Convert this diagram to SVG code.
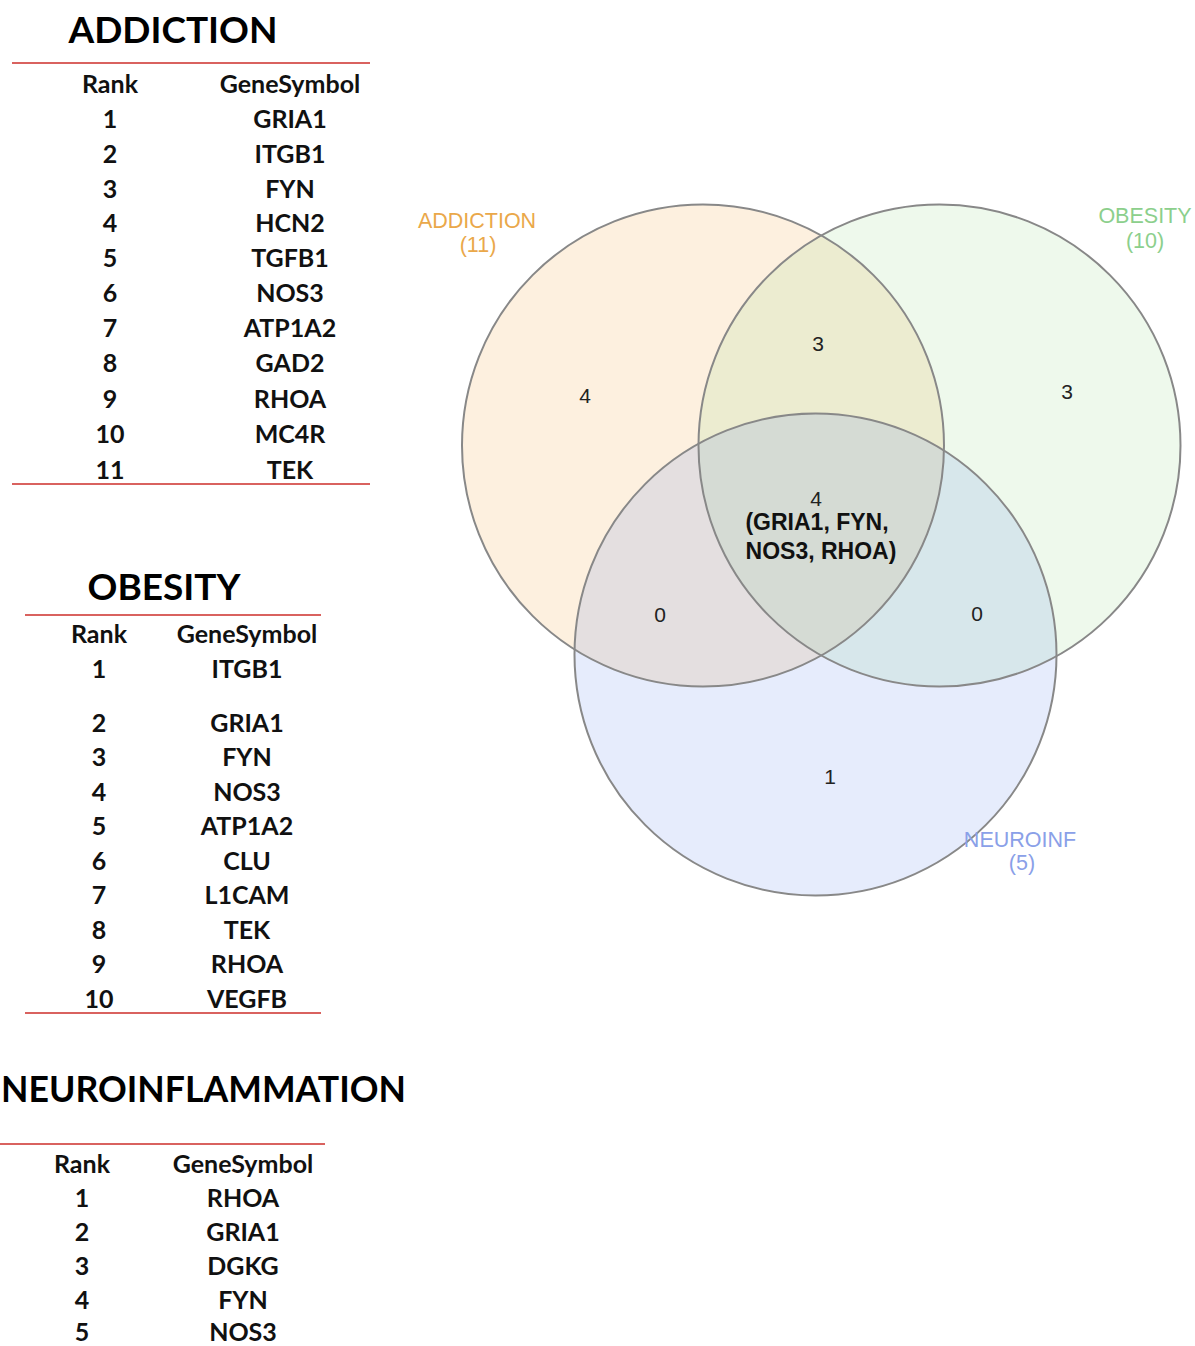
<svg xmlns="http://www.w3.org/2000/svg" width="1195" height="1346" viewBox="0 0 1195 1346">
<style>
.title{font-family:Lato,"Open Sans",sans-serif;font-weight:bold;font-size:37px;fill:#000;text-anchor:middle}
.cell{font-family:Lato,"Open Sans",sans-serif;font-weight:bold;font-size:25px;fill:#111;text-anchor:middle;dominant-baseline:central}
.rule{stroke:#d9625f;stroke-width:2}
.num{font-family:"Liberation Sans",Arial,sans-serif;font-size:21px;fill:#222;text-anchor:middle;dominant-baseline:central}
.gene{font-family:"Liberation Sans",Arial,sans-serif;font-weight:bold;font-size:23px;fill:#111;text-anchor:middle;dominant-baseline:central}
.lab{font-family:"Liberation Sans",Arial,sans-serif;font-size:21.5px;text-anchor:middle;dominant-baseline:central}
.ring{fill:none;stroke:#888;stroke-width:2}
</style>
<rect width="1195" height="1346" fill="#fff"/>

<g id="table-addiction">
<text class="title" x="173" y="43">ADDICTION</text>
<line class="rule" x1="12" y1="63" x2="370" y2="63"/>
<text class="cell" x="110" y="83">Rank</text><text class="cell" x="290" y="83">GeneSymbol</text>
<text class="cell" x="110" y="118">1</text><text class="cell" x="290" y="118">GRIA1</text>
<text class="cell" x="110" y="153">2</text><text class="cell" x="290" y="153">ITGB1</text>
<text class="cell" x="110" y="188">3</text><text class="cell" x="290" y="188">FYN</text>
<text class="cell" x="110" y="222">4</text><text class="cell" x="290" y="222">HCN2</text>
<text class="cell" x="110" y="257">5</text><text class="cell" x="290" y="257">TGFB1</text>
<text class="cell" x="110" y="292">6</text><text class="cell" x="290" y="292">NOS3</text>
<text class="cell" x="110" y="327">7</text><text class="cell" x="290" y="327">ATP1A2</text>
<text class="cell" x="110" y="362">8</text><text class="cell" x="290" y="362">GAD2</text>
<text class="cell" x="110" y="398">9</text><text class="cell" x="290" y="398">RHOA</text>
<text class="cell" x="110" y="433">10</text><text class="cell" x="290" y="433">MC4R</text>
<text class="cell" x="110" y="469">11</text><text class="cell" x="290" y="469">TEK</text>
<line class="rule" x1="12" y1="484" x2="370" y2="484"/>
</g>

<g id="table-obesity">
<text class="title" x="164" y="600">OBESITY</text>
<line class="rule" x1="25" y1="615" x2="321" y2="615"/>
<text class="cell" x="99" y="633">Rank</text><text class="cell" x="247" y="633">GeneSymbol</text>
<text class="cell" x="99" y="668">1</text><text class="cell" x="247" y="668">ITGB1</text>
<text class="cell" x="99" y="722">2</text><text class="cell" x="247" y="722">GRIA1</text>
<text class="cell" x="99" y="756">3</text><text class="cell" x="247" y="756">FYN</text>
<text class="cell" x="99" y="791">4</text><text class="cell" x="247" y="791">NOS3</text>
<text class="cell" x="99" y="825">5</text><text class="cell" x="247" y="825">ATP1A2</text>
<text class="cell" x="99" y="860">6</text><text class="cell" x="247" y="860">CLU</text>
<text class="cell" x="99" y="894">7</text><text class="cell" x="247" y="894">L1CAM</text>
<text class="cell" x="99" y="929">8</text><text class="cell" x="247" y="929">TEK</text>
<text class="cell" x="99" y="963">9</text><text class="cell" x="247" y="963">RHOA</text>
<text class="cell" x="99" y="998">10</text><text class="cell" x="247" y="998">VEGFB</text>
<line class="rule" x1="25" y1="1013" x2="321" y2="1013"/>
</g>

<g id="table-neuroinflammation">
<text class="title" x="1" y="1102" style="text-anchor:start" textLength="405" lengthAdjust="spacingAndGlyphs">NEUROINFLAMMATION</text>
<line class="rule" x1="0" y1="1144" x2="325" y2="1144"/>
<text class="cell" x="82" y="1163">Rank</text><text class="cell" x="243" y="1163">GeneSymbol</text>
<text class="cell" x="82" y="1197">1</text><text class="cell" x="243" y="1197">RHOA</text>
<text class="cell" x="82" y="1231">2</text><text class="cell" x="243" y="1231">GRIA1</text>
<text class="cell" x="82" y="1265">3</text><text class="cell" x="243" y="1265">DGKG</text>
<text class="cell" x="82" y="1299">4</text><text class="cell" x="243" y="1299">FYN</text>
<text class="cell" x="82" y="1331">5</text><text class="cell" x="243" y="1331">NOS3</text>
</g>

<g id="venn">
<g id="set-addiction"><circle cx="703" cy="445.5" r="241" fill="rgb(242,155,42)" fill-opacity="0.15"/></g>
<g id="set-obesity"><circle cx="939.5" cy="445.5" r="241" fill="rgb(142,215,128)" fill-opacity="0.15"/></g>
<g id="set-neuroinf"><circle cx="815.5" cy="654.5" r="241" fill="rgb(88,128,235)" fill-opacity="0.15"/></g>
<circle class="ring" cx="703" cy="445.5" r="241"/>
<circle class="ring" cx="939.5" cy="445.5" r="241"/>
<circle class="ring" cx="815.5" cy="654.5" r="241"/>
<text class="lab" x="477" y="221" fill="#eaa84a">ADDICTION</text>
<text class="lab" x="478" y="245" fill="#eaa84a">(11)</text>
<text class="lab" x="1145" y="216" fill="#8ccf8c">OBESITY</text>
<text class="lab" x="1145" y="241" fill="#8ccf8c">(10)</text>
<text class="lab" x="1020" y="840" fill="#8aa0e8">NEUROINF</text>
<text class="lab" x="1022" y="863" fill="#8aa0e8">(5)</text>
<text class="num" x="585" y="395">4</text>
<text class="num" x="818" y="343">3</text>
<text class="num" x="1067" y="391">3</text>
<text class="num" x="816" y="498">4</text>
<text class="gene" x="817" y="522">(GRIA1, FYN,</text>
<text class="gene" x="821" y="551">NOS3, RHOA)</text>
<text class="num" x="660" y="614">0</text>
<text class="num" x="977" y="613">0</text>
<text class="num" x="830" y="776">1</text>
</g>
</svg>
